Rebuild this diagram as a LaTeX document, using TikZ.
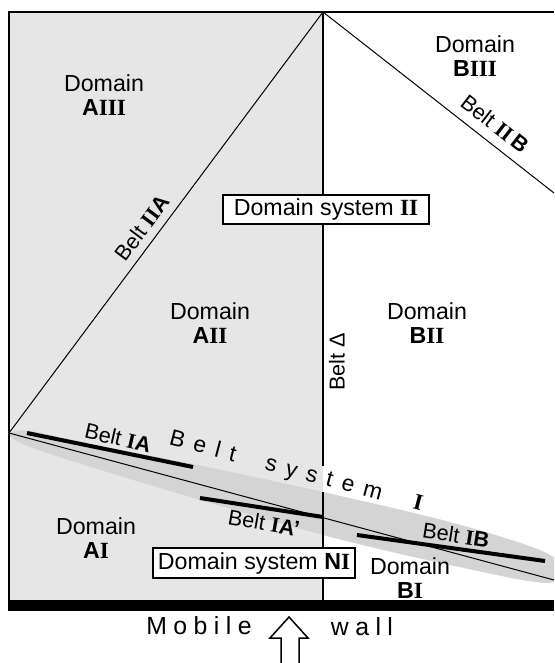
\documentclass[tikz,border=0pt]{standalone}
\usepackage{fontspec}
\setmainfont{Liberation Sans}
\newfontfamily\tmfont{Liberation Serif}
\newcommand\romn[1]{{\tmfont\bfseries #1}}
\newcommand\sansb[1]{{\bfseries #1}}
\newcommand\lsA{\kern0.26em}
\newcommand\lsB{\kern0.42em}
\definecolor{domgray}{HTML}{E6E6E6}
\definecolor{beltgray}{HTML}{D4D4D4}
\begin{document}
\begin{tikzpicture}[x=0.5pt,y=-0.5pt,
  lbl/.style={font=\fontsize{11.6}{12}\selectfont, align=center, inner sep=0pt},
  beltlbl/.style={font=\fontsize{10.8}{12}\selectfont, inner sep=0pt},
  syslbl/.style={font=\fontsize{11.4}{12}\selectfont, inner sep=0pt},
  walllbl/.style={font=\fontsize{12.4}{14}\selectfont, inner sep=0pt},
  sysbox/.style={draw, line width=0.75pt, fill=white, font=\fontsize{11.6}{12}\selectfont, inner sep=0pt},
  thinline/.style={line width=0.5pt},
  thickseg/.style={line width=2pt, line cap=butt},
  frameline/.style={line width=1pt},
  arrowline/.style={line width=0.75pt, line join=miter}]
\useasboundingbox (0,0) rectangle (554,663);
% key points
\coordinate (TL) at (9,12);
\coordinate (TR) at (554,12);
\coordinate (BL) at (9,600);
\coordinate (top) at (323,12);
\coordinate (bot) at (323,600);
\coordinate (gapA) at (323,466);
\coordinate (gapB) at (323,492);
\coordinate (P) at (9,433);
\coordinate (Q) at (554,580);
\coordinate (R) at (554,193);
% grey domain A
\fill[domgray] (TL) rectangle (bot);
% belt system I band
\begin{scope}
\clip (9,12) rectangle (554,600);
\fill[beltgray] plot[smooth, tension=0.55] coordinates {(9,433) (30,431) (100,446) (193,464) (323,492) (450,522) (540,550) (560,567) (546,583) (450,565) (323,535) (150,485) (30,447) (9,433)} -- cycle;
\end{scope}
% belts
\draw[thinline] (P) -- (top);
\draw[thinline] (top) -- (R);
\draw[thinline] (P) -- (Q);
\coordinate (IAa) at (27,433);
\coordinate (IAb) at (193,467);
\coordinate (IApa) at (200,498);
\coordinate (IApb) at (323,517);
\coordinate (IBa) at (357,535);
\coordinate (IBb) at (545,561);
\draw[thickseg] (IAa) -- (IAb);
\draw[thickseg] (IApa) -- (IApb);
\draw[thickseg] (IBa) -- (IBb);
% vertical belt Delta
\draw[frameline] (top) -- (gapA);
\draw[frameline] (gapB) -- (bot);
% frame
\draw[frameline] (TR) -- (TL) -- (BL);
\fill (8,600) rectangle (554,611);
% boxes
\node[sysbox, minimum width=103pt, minimum height=14.5pt] (sysII) at (326,209.5) {Domain system \romn{II}};
\node[sysbox, minimum width=101pt, minimum height=15pt] (sysNI) at (254,563) {Domain system \sansb{N}\romn{I}};
% domain labels
\node[lbl] (dAIII) at (104,95) {Domain\\\sansb{A}\romn{III}};
\node[lbl] (dBIII) at (475,56) {Domain\\\sansb{B}\romn{III}};
\node[lbl] (dAII) at (210,323) {Domain\\\sansb{A}\romn{II}};
\node[lbl] (dBII) at (427,323) {Domain\\\sansb{B}\romn{II}};
\node[lbl] (dAI) at (96,538) {Domain\\\sansb{A}\romn{I}};
\node[lbl] (dBI) at (410,578) {Domain\\\sansb{B}\romn{I}};
% belt labels
\node[beltlbl, rotate=53.3] (lIIA) at (142,228) {Belt \romn{II}\sansb{A}};
\node[beltlbl, rotate=-38] (lIIB) at (495,124) {Belt \romn{II}\,\sansb{B}};
\node[beltlbl, rotate=90] (lDelta) at (337,362) {Belt Δ};
\node[beltlbl, rotate=-13] (lIA) at (118,438) {Belt \romn{I}\sansb{A}};
\node[beltlbl, rotate=-10] (lIAp) at (264,523) {Belt \romn{I}\sansb{A'}};
\node[beltlbl, rotate=-9] (lIB) at (456,535) {Belt \romn{I}\sansb{B}};
\node[syslbl, rotate=-14.7] (lsys) at (296,472) {B\lsB e\lsB l\lsB t\hspace{1.36em}s\lsB y\lsB s\lsB t\lsB e\lsB m\hspace{1.45em}\romn{I}};
% mobile wall
\node[walllbl] (mob) at (199,626) {M\lsA o\lsA b\lsA i\lsA l\lsA e};
\node[walllbl] (wall) at (362,627) {w\lsA a\lsA l\lsA l};
\draw[arrowline] (281,663) -- (281,638) -- (270,638) -- (289,617) -- (308,638) -- (299,638) -- (299,663);
\end{tikzpicture}
\end{document}
